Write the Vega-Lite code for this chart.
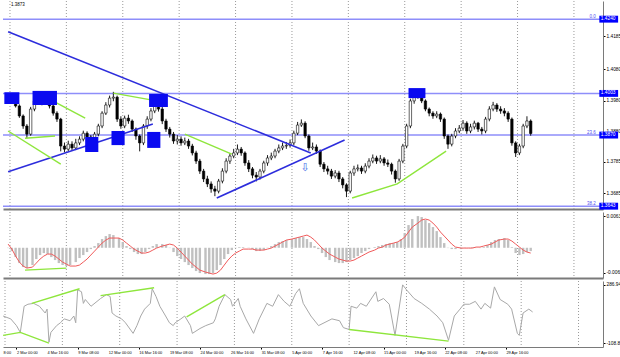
{
"$schema": "https://vega.github.io/schema/vega-lite/v6.json",
"padding": 0,
"spacing": 1,
"background": "white",
"config": {"view": {"stroke": null}, "font": "Liberation Sans", "axis": {"title": null, "labelFont": "Liberation Sans", "labelColor": "#000000", "labelOverlap": false, "labelBound": false, "labelFlush": false}},
"datasets": {
"candles": [
{"n":-1,"o":1.3988,"h":1.3996,"l":1.3970,"c":1.3979},{"n":1,"o":1.3979,"h":1.3994,"l":1.3972,"c":1.3985},{"n":3,"o":1.3985,"h":1.3990,"l":1.3958,"c":1.3963},{"n":5,"o":1.3963,"h":1.3968,"l":1.3925,"c":1.3931},{"n":7,"o":1.3931,"h":1.3936,"l":1.3890,"c":1.3899},{"n":9,"o":1.3899,"h":1.3905,"l":1.3860,"c":1.3873},{"n":11,"o":1.3873,"h":1.3960,"l":1.3868,"c":1.3953},{"n":13,"o":1.3953,"h":1.3990,"l":1.3946,"c":1.3979},{"n":15,"o":1.3979,"h":1.4004,"l":1.3972,"c":1.3991},{"n":17,"o":1.3991,"h":1.3998,"l":1.3965,"c":1.3972},{"n":19,"o":1.3972,"h":1.3995,"l":1.3966,"c":1.3985},{"n":21,"o":1.3985,"h":1.3992,"l":1.3955,"c":1.3963},{"n":23,"o":1.3963,"h":1.3968,"l":1.3932,"c":1.3940},{"n":25,"o":1.3940,"h":1.3946,"l":1.3912,"c":1.3921},{"n":27,"o":1.3921,"h":1.3925,"l":1.3818,"c":1.3835},{"n":29,"o":1.3835,"h":1.3846,"l":1.3815,"c":1.3825},{"n":31,"o":1.3825,"h":1.3852,"l":1.3818,"c":1.3841},{"n":33,"o":1.3841,"h":1.3850,"l":1.3820,"c":1.3829},{"n":35,"o":1.3829,"h":1.3858,"l":1.3822,"c":1.3845},{"n":37,"o":1.3845,"h":1.3866,"l":1.3838,"c":1.3857},{"n":39,"o":1.3857,"h":1.3884,"l":1.3850,"c":1.3876},{"n":41,"o":1.3876,"h":1.3882,"l":1.3856,"c":1.3864},{"n":43,"o":1.3864,"h":1.3870,"l":1.3840,"c":1.3851},{"n":45,"o":1.3851,"h":1.3880,"l":1.3845,"c":1.3873},{"n":47,"o":1.3873,"h":1.3906,"l":1.3866,"c":1.3899},{"n":49,"o":1.3899,"h":1.3946,"l":1.3892,"c":1.3940},{"n":51,"o":1.3940,"h":1.3975,"l":1.3934,"c":1.3966},{"n":53,"o":1.3966,"h":1.3996,"l":1.3958,"c":1.3988},{"n":55,"o":1.3988,"h":1.4008,"l":1.3978,"c":1.3991},{"n":57,"o":1.3991,"h":1.3996,"l":1.3912,"c":1.3921},{"n":59,"o":1.3921,"h":1.3930,"l":1.3890,"c":1.3899},{"n":61,"o":1.3899,"h":1.3932,"l":1.3892,"c":1.3924},{"n":63,"o":1.3924,"h":1.3935,"l":1.3906,"c":1.3915},{"n":65,"o":1.3915,"h":1.3920,"l":1.3880,"c":1.3889},{"n":67,"o":1.3889,"h":1.3894,"l":1.3855,"c":1.3867},{"n":69,"o":1.3867,"h":1.3872,"l":1.3818,"c":1.3845},{"n":71,"o":1.3845,"h":1.3905,"l":1.3838,"c":1.3899},{"n":73,"o":1.3899,"h":1.3930,"l":1.3890,"c":1.3921},{"n":75,"o":1.3921,"h":1.3956,"l":1.3914,"c":1.3947},{"n":77,"o":1.3947,"h":1.3992,"l":1.3940,"c":1.3979},{"n":79,"o":1.3979,"h":1.3985,"l":1.3945,"c":1.3953},{"n":81,"o":1.3953,"h":1.3960,"l":1.3905,"c":1.3915},{"n":83,"o":1.3915,"h":1.3922,"l":1.3880,"c":1.3889},{"n":85,"o":1.3889,"h":1.3896,"l":1.3862,"c":1.3873},{"n":87,"o":1.3873,"h":1.3880,"l":1.3842,"c":1.3851},{"n":89,"o":1.3851,"h":1.3870,"l":1.3840,"c":1.3857},{"n":91,"o":1.3857,"h":1.3866,"l":1.3836,"c":1.3845},{"n":93,"o":1.3845,"h":1.3862,"l":1.3838,"c":1.3851},{"n":95,"o":1.3851,"h":1.3858,"l":1.3826,"c":1.3835},{"n":97,"o":1.3835,"h":1.3842,"l":1.3805,"c":1.3813},{"n":99,"o":1.3813,"h":1.3820,"l":1.3778,"c":1.3787},{"n":101,"o":1.3787,"h":1.3794,"l":1.3746,"c":1.3755},{"n":103,"o":1.3755,"h":1.3762,"l":1.3720,"c":1.3730},{"n":105,"o":1.3730,"h":1.3740,"l":1.3704,"c":1.3714},{"n":107,"o":1.3714,"h":1.3722,"l":1.3686,"c":1.3698},{"n":109,"o":1.3698,"h":1.3708,"l":1.3675,"c":1.3691},{"n":111,"o":1.3691,"h":1.3730,"l":1.3684,"c":1.3723},{"n":113,"o":1.3723,"h":1.3764,"l":1.3716,"c":1.3755},{"n":115,"o":1.3755,"h":1.3796,"l":1.3748,"c":1.3787},{"n":117,"o":1.3787,"h":1.3812,"l":1.3778,"c":1.3803},{"n":119,"o":1.3803,"h":1.3826,"l":1.3796,"c":1.3813},{"n":121,"o":1.3813,"h":1.3840,"l":1.3806,"c":1.3825},{"n":123,"o":1.3825,"h":1.3832,"l":1.3804,"c":1.3813},{"n":125,"o":1.3813,"h":1.3818,"l":1.3772,"c":1.3781},{"n":127,"o":1.3781,"h":1.3790,"l":1.3752,"c":1.3762},{"n":129,"o":1.3762,"h":1.3768,"l":1.3732,"c":1.3742},{"n":131,"o":1.3742,"h":1.3752,"l":1.3722,"c":1.3736},{"n":133,"o":1.3736,"h":1.3762,"l":1.3728,"c":1.3755},{"n":135,"o":1.3755,"h":1.3788,"l":1.3748,"c":1.3781},{"n":137,"o":1.3781,"h":1.3806,"l":1.3772,"c":1.3797},{"n":139,"o":1.3797,"h":1.3814,"l":1.3790,"c":1.3803},{"n":141,"o":1.3803,"h":1.3826,"l":1.3796,"c":1.3819},{"n":143,"o":1.3819,"h":1.3840,"l":1.3812,"c":1.3829},{"n":145,"o":1.3829,"h":1.3846,"l":1.3822,"c":1.3835},{"n":147,"o":1.3835,"h":1.3848,"l":1.3826,"c":1.3837},{"n":149,"o":1.3837,"h":1.3856,"l":1.3830,"c":1.3845},{"n":151,"o":1.3845,"h":1.3884,"l":1.3838,"c":1.3876},{"n":153,"o":1.3876,"h":1.3912,"l":1.3870,"c":1.3902},{"n":155,"o":1.3902,"h":1.3920,"l":1.3896,"c":1.3908},{"n":157,"o":1.3908,"h":1.3914,"l":1.3860,"c":1.3867},{"n":159,"o":1.3867,"h":1.3872,"l":1.3820,"c":1.3829},{"n":161,"o":1.3829,"h":1.3846,"l":1.3822,"c":1.3832},{"n":163,"o":1.3832,"h":1.3840,"l":1.3810,"c":1.3819},{"n":165,"o":1.3819,"h":1.3824,"l":1.3768,"c":1.3777},{"n":167,"o":1.3777,"h":1.3784,"l":1.3752,"c":1.3762},{"n":169,"o":1.3762,"h":1.3772,"l":1.3744,"c":1.3755},{"n":171,"o":1.3755,"h":1.3762,"l":1.3730,"c":1.3739},{"n":173,"o":1.3739,"h":1.3758,"l":1.3732,"c":1.3749},{"n":175,"o":1.3749,"h":1.3756,"l":1.3720,"c":1.3730},{"n":177,"o":1.3730,"h":1.3736,"l":1.3700,"c":1.3711},{"n":179,"o":1.3711,"h":1.3716,"l":1.3672,"c":1.3691},{"n":181,"o":1.3691,"h":1.3756,"l":1.3684,"c":1.3749},{"n":183,"o":1.3749,"h":1.3772,"l":1.3740,"c":1.3762},{"n":185,"o":1.3762,"h":1.3776,"l":1.3754,"c":1.3765},{"n":187,"o":1.3765,"h":1.3772,"l":1.3746,"c":1.3755},{"n":189,"o":1.3755,"h":1.3780,"l":1.3748,"c":1.3771},{"n":191,"o":1.3771,"h":1.3796,"l":1.3764,"c":1.3787},{"n":193,"o":1.3787,"h":1.3808,"l":1.3780,"c":1.3797},{"n":195,"o":1.3797,"h":1.3804,"l":1.3778,"c":1.3787},{"n":197,"o":1.3787,"h":1.3806,"l":1.3780,"c":1.3794},{"n":199,"o":1.3794,"h":1.3800,"l":1.3772,"c":1.3781},{"n":201,"o":1.3781,"h":1.3792,"l":1.3768,"c":1.3777},{"n":203,"o":1.3777,"h":1.3782,"l":1.3744,"c":1.3755},{"n":205,"o":1.3755,"h":1.3760,"l":1.3718,"c":1.3730},{"n":207,"o":1.3730,"h":1.3794,"l":1.3724,"c":1.3787},{"n":209,"o":1.3787,"h":1.3842,"l":1.3780,"c":1.3835},{"n":211,"o":1.3835,"h":1.3906,"l":1.3828,"c":1.3899},{"n":213,"o":1.3899,"h":1.3986,"l":1.3892,"c":1.3979},{"n":215,"o":1.3979,"h":1.4008,"l":1.3970,"c":1.3995},{"n":217,"o":1.3995,"h":1.4016,"l":1.3986,"c":1.4004},{"n":219,"o":1.4004,"h":1.4010,"l":1.3972,"c":1.3979},{"n":221,"o":1.3979,"h":1.3984,"l":1.3946,"c":1.3953},{"n":223,"o":1.3953,"h":1.3958,"l":1.3930,"c":1.3940},{"n":225,"o":1.3940,"h":1.3946,"l":1.3922,"c":1.3931},{"n":227,"o":1.3931,"h":1.3946,"l":1.3924,"c":1.3937},{"n":229,"o":1.3937,"h":1.3942,"l":1.3912,"c":1.3921},{"n":231,"o":1.3921,"h":1.3926,"l":1.3858,"c":1.3867},{"n":233,"o":1.3867,"h":1.3872,"l":1.3826,"c":1.3841},{"n":235,"o":1.3841,"h":1.3874,"l":1.3834,"c":1.3867},{"n":237,"o":1.3867,"h":1.3892,"l":1.3860,"c":1.3883},{"n":239,"o":1.3883,"h":1.3902,"l":1.3876,"c":1.3892},{"n":241,"o":1.3892,"h":1.3918,"l":1.3884,"c":1.3908},{"n":243,"o":1.3908,"h":1.3914,"l":1.3874,"c":1.3883},{"n":245,"o":1.3883,"h":1.3906,"l":1.3876,"c":1.3896},{"n":247,"o":1.3896,"h":1.3916,"l":1.3888,"c":1.3908},{"n":249,"o":1.3908,"h":1.3912,"l":1.3880,"c":1.3889},{"n":251,"o":1.3889,"h":1.3896,"l":1.3872,"c":1.3883},{"n":253,"o":1.3883,"h":1.3928,"l":1.3876,"c":1.3921},{"n":255,"o":1.3921,"h":1.3962,"l":1.3914,"c":1.3953},{"n":257,"o":1.3953,"h":1.3976,"l":1.3946,"c":1.3966},{"n":259,"o":1.3966,"h":1.3972,"l":1.3944,"c":1.3953},{"n":261,"o":1.3953,"h":1.3962,"l":1.3938,"c":1.3947},{"n":263,"o":1.3947,"h":1.3956,"l":1.3930,"c":1.3940},{"n":265,"o":1.3940,"h":1.3946,"l":1.3912,"c":1.3921},{"n":267,"o":1.3921,"h":1.3926,"l":1.3836,"c":1.3845},{"n":269,"o":1.3845,"h":1.3850,"l":1.3800,"c":1.3813},{"n":271,"o":1.3813,"h":1.3842,"l":1.3806,"c":1.3835},{"n":273,"o":1.3835,"h":1.3906,"l":1.3828,"c":1.3899},{"n":275,"o":1.3899,"h":1.3930,"l":1.3892,"c":1.3915},{"n":277,"o":1.3915,"h":1.3920,"l":1.3868,"c":1.3875}
],
"macd": [
{"n":-1,"m":-0.00006,"s":0.00073},{"n":1,"m":-0.00066,"s":-0.00026},{"n":3,"m":-0.00185,"s":-0.00165},{"n":5,"m":-0.00304,"s":-0.00284},{"n":7,"m":-0.00383,"s":-0.00363},{"n":9,"m":-0.00403,"s":-0.00403},{"n":12,"m":-0.00343,"s":-0.00383},{"n":14,"m":-0.00224,"s":-0.00304},{"n":16,"m":-0.00145,"s":-0.00224},{"n":18,"m":-0.00105,"s":-0.00165},{"n":20,"m":-0.00125,"s":-0.00125},{"n":22,"m":-0.00185,"s":-0.00125},{"n":24,"m":-0.00244,"s":-0.00165},{"n":26,"m":-0.00304,"s":-0.00224},{"n":28,"m":-0.00343,"s":-0.00284},{"n":30,"m":-0.00363,"s":-0.00324},{"n":32,"m":-0.00343,"s":-0.00363},{"n":35,"m":-0.00284,"s":-0.00363},{"n":37,"m":-0.00204,"s":-0.00343},{"n":39,"m":-0.00145,"s":-0.00284},{"n":41,"m":-0.00085,"s":-0.00224},{"n":43,"m":-0.00026,"s":-0.00145},{"n":45,"m":0.00034,"s":-0.00066},{"n":47,"m":0.00093,"s":0.00014},{"n":49,"m":0.00173,"s":0.00093},{"n":51,"m":0.00232,"s":0.00153},{"n":53,"m":0.00272,"s":0.00193},{"n":55,"m":0.00252,"s":0.00193},{"n":58,"m":0.00193,"s":0.00193},{"n":60,"m":0.00113,"s":0.00153},{"n":62,"m":0.00034,"s":0.00093},{"n":64,"m":-0.00026,"s":0.00034},{"n":66,"m":-0.00085,"s":-0.00026},{"n":68,"m":-0.00125,"s":-0.00066},{"n":70,"m":-0.00125,"s":-0.00105},{"n":72,"m":-0.00085,"s":-0.00105},{"n":74,"m":-0.00026,"s":-0.00085},{"n":76,"m":0.00034,"s":-0.00046},{"n":78,"m":0.00073,"s":-0.00006},{"n":81,"m":0.00073,"s":0.00034},{"n":83,"m":0.00054,"s":0.00054},{"n":85,"m":-0.00006,"s":0.00073},{"n":87,"m":-0.00085,"s":0.00054},{"n":89,"m":-0.00165,"s":-0.00006},{"n":91,"m":-0.00224,"s":-0.00085},{"n":93,"m":-0.00284,"s":-0.00165},{"n":95,"m":-0.00343,"s":-0.00244},{"n":97,"m":-0.00403,"s":-0.00324},{"n":99,"m":-0.00462,"s":-0.00383},{"n":101,"m":-0.00502,"s":-0.00443},{"n":104,"m":-0.00522,"s":-0.00482},{"n":106,"m":-0.00522,"s":-0.00502},{"n":108,"m":-0.00502,"s":-0.00522},{"n":110,"m":-0.00443,"s":-0.00502},{"n":112,"m":-0.00343,"s":-0.00443},{"n":114,"m":-0.00224,"s":-0.00343},{"n":116,"m":-0.00125,"s":-0.00244},{"n":118,"m":-0.00046,"s":-0.00165},{"n":120,"m":-0.00006,"s":-0.00105},{"n":122,"m":0.00014,"s":-0.00066},{"n":124,"m":0.00014,"s":-0.00026},{"n":127,"m":-0.00006,"s":-0.00026},{"n":129,"m":-0.00026,"s":-0.00026},{"n":131,"m":-0.00066,"s":-0.00046},{"n":133,"m":-0.00066,"s":-0.00046},{"n":135,"m":-0.00046,"s":-0.00046},{"n":137,"m":-0.00006,"s":-0.00026},{"n":139,"m":0.00034,"s":-0.00006},{"n":141,"m":0.00073,"s":0.00034},{"n":143,"m":0.00113,"s":0.00073},{"n":145,"m":0.00133,"s":0.00113},{"n":147,"m":0.00153,"s":0.00153},{"n":150,"m":0.00173,"s":0.00173},{"n":152,"m":0.00193,"s":0.00193},{"n":154,"m":0.00212,"s":0.00212},{"n":156,"m":0.00212,"s":0.00232},{"n":158,"m":0.00173,"s":0.00252},{"n":160,"m":0.00113,"s":0.00212},{"n":162,"m":0.00034,"s":0.00153},{"n":164,"m":-0.00026,"s":0.00073},{"n":166,"m":-0.00105,"s":-0.00006},{"n":168,"m":-0.00185,"s":-0.00066},{"n":170,"m":-0.00244,"s":-0.00125},{"n":173,"m":-0.00284,"s":-0.00185},{"n":175,"m":-0.00304,"s":-0.00224},{"n":177,"m":-0.00304,"s":-0.00244},{"n":179,"m":-0.00284,"s":-0.00264},{"n":181,"m":-0.00244,"s":-0.00264},{"n":183,"m":-0.00204,"s":-0.00244},{"n":185,"m":-0.00165,"s":-0.00204},{"n":187,"m":-0.00105,"s":-0.00165},{"n":189,"m":-0.00066,"s":-0.00125},{"n":191,"m":-0.00026,"s":-0.00085},{"n":194,"m":0.00014,"s":-0.00046},{"n":196,"m":0.00034,"s":-0.00006},{"n":198,"m":0.00054,"s":0.00014},{"n":200,"m":0.00073,"s":0.00054},{"n":202,"m":0.00093,"s":0.00073},{"n":204,"m":0.00093,"s":0.00093},{"n":206,"m":0.00113,"s":0.00113},{"n":208,"m":0.00173,"s":0.00153},{"n":210,"m":0.00292,"s":0.00212},{"n":212,"m":0.00451,"s":0.00312},{"n":214,"m":0.00570,"s":0.00411},{"n":217,"m":0.00629,"s":0.00490},{"n":219,"m":0.00609,"s":0.00550},{"n":221,"m":0.00550,"s":0.00570},{"n":223,"m":0.00490,"s":0.00550},{"n":225,"m":0.00411,"s":0.00490},{"n":227,"m":0.00331,"s":0.00411},{"n":229,"m":0.00212,"s":0.00312},{"n":231,"m":0.00093,"s":0.00232},{"n":233,"m":-0.00006,"s":0.00153},{"n":235,"m":-0.00026,"s":0.00073},{"n":237,"m":-0.00026,"s":0.00014},{"n":240,"m":-0.00026,"s":-0.00006},{"n":242,"m":-0.00006,"s":-0.00006},{"n":244,"m":-0.00006,"s":-0.00006},{"n":246,"m":0.00014,"s":-0.00006},{"n":248,"m":-0.00006,"s":0.00014},{"n":250,"m":-0.00006,"s":0.00014},{"n":252,"m":0.00014,"s":0.00034},{"n":254,"m":0.00054,"s":0.00054},{"n":256,"m":0.00113,"s":0.00073},{"n":258,"m":0.00153,"s":0.00113},{"n":260,"m":0.00173,"s":0.00153},{"n":263,"m":0.00193,"s":0.00173},{"n":265,"m":0.00153,"s":0.00173},{"n":267,"m":0.00014,"s":0.00133},{"n":269,"m":-0.00105,"s":0.00073},{"n":271,"m":-0.00145,"s":0.00014},{"n":273,"m":-0.00125,"s":-0.00046},{"n":275,"m":-0.00085,"s":-0.00085},{"n":277,"m":-0.00066,"s":-0.00105}
],
"cci": [
{"n":-1,"k":-14},{"n":3,"k":-34},{"n":6,"k":-81},{"n":8,"k":-128},{"n":10,"k":54},{"n":12,"k":68},{"n":15,"k":74},{"n":18,"k":54},{"n":21,"k":7},{"n":22,"k":34},{"n":23,"k":-196},{"n":24,"k":-128},{"n":27,"k":-81},{"n":29,"k":-61},{"n":31,"k":-34},{"n":34,"k":-47},{"n":36,"k":-14},{"n":37,"k":-61},{"n":38,"k":169},{"n":40,"k":155},{"n":41,"k":74},{"n":42,"k":101},{"n":45,"k":54},{"n":50,"k":108},{"n":53,"k":135},{"n":55,"k":122},{"n":56,"k":7},{"n":58,"k":-14},{"n":61,"k":-34},{"n":63,"k":-61},{"n":67,"k":-135},{"n":69,"k":-81},{"n":71,"k":-14},{"n":73,"k":34},{"n":76,"k":74},{"n":77,"k":176},{"n":79,"k":122},{"n":81,"k":54},{"n":84,"k":-14},{"n":86,"k":-61},{"n":88,"k":-81},{"n":89,"k":-61},{"n":92,"k":-34},{"n":94,"k":-14},{"n":97,"k":-81},{"n":98,"k":-135},{"n":102,"k":-101},{"n":105,"k":-81},{"n":109,"k":-61},{"n":110,"k":-34},{"n":112,"k":54},{"n":115,"k":135},{"n":118,"k":101},{"n":119,"k":54},{"n":122,"k":108},{"n":123,"k":54},{"n":126,"k":-34},{"n":130,"k":-135},{"n":133,"k":-34},{"n":137,"k":74},{"n":140,"k":54},{"n":143,"k":135},{"n":146,"k":88},{"n":149,"k":54},{"n":152,"k":142},{"n":154,"k":176},{"n":156,"k":74},{"n":160,"k":-14},{"n":164,"k":-81},{"n":171,"k":-34},{"n":175,"k":-47},{"n":177,"k":-95},{"n":180,"k":-108},{"n":181,"k":54},{"n":184,"k":41},{"n":186,"k":74},{"n":189,"k":54},{"n":194,"k":155},{"n":195,"k":88},{"n":198,"k":108},{"n":201,"k":68},{"n":204,"k":-149},{"n":208,"k":203},{"n":210,"k":169},{"n":214,"k":108},{"n":218,"k":74},{"n":222,"k":34},{"n":226,"k":-14},{"n":229,"k":-61},{"n":232,"k":-183},{"n":235,"k":-14},{"n":238,"k":34},{"n":240,"k":68},{"n":243,"k":68},{"n":246,"k":88},{"n":249,"k":34},{"n":251,"k":74},{"n":254,"k":41},{"n":256,"k":189},{"n":259,"k":101},{"n":263,"k":68},{"n":265,"k":34},{"n":268,"k":-135},{"n":269,"k":-149},{"n":271,"k":7},{"n":274,"k":34},{"n":276,"k":14}
],
"grid": [{"n":0},{"n":30},{"n":60},{"n":90},{"n":120},{"n":150},{"n":180},{"n":210},{"n":240},{"n":270},{"n":300}],
"xlabels": [
{"n":-1.05,"t":"8:00"},{"n":6,"t":"2 Mar 00:00"},{"n":22,"t":"4 Mar 16:00"},{"n":38,"t":"9 Mar 08:00"},{"n":54,"t":"12 Mar 00:00"},{"n":70,"t":"16 Mar 16:00"},{"n":86,"t":"19 Mar 08:00"},{"n":102,"t":"24 Mar 00:00"},{"n":118,"t":"26 Mar 16:00"},{"n":134,"t":"31 Mar 08:00"},{"n":150,"t":"5 Apr 00:00"},{"n":166,"t":"7 Apr 16:00"},{"n":182,"t":"12 Apr 08:00"},{"n":198,"t":"15 Apr 00:00"},{"n":214,"t":"19 Apr 16:00"},{"n":230,"t":"22 Apr 08:00"},{"n":246,"t":"27 Apr 00:00"},{"n":262,"t":"29 Apr 16:00"}
],
"levels": [{"p":1.4240},{"p":1.4003},{"p":1.3870},{"p":1.3643}],
"trend": [
{"id":"a","n":-1,"p":1.4200},{"id":"a","n":160,"p":1.3813},
{"id":"b","n":-1,"p":1.3753},{"id":"b","n":76,"p":1.3905},
{"id":"c","n":110,"p":1.3669},{"id":"c","n":178,"p":1.3854}
],
"green": [
{"id":"a","n":-1,"p":1.3883},{"id":"a","n":27,"p":1.3777},
{"id":"b","n":8,"p":1.3860},{"id":"b","n":24,"p":1.3867},
{"id":"c","n":14,"p":1.4007},{"id":"c","n":40,"p":1.3924},
{"id":"d","n":55,"p":1.4004},{"id":"d","n":78,"p":1.3979},
{"id":"e","n":93,"p":1.3873},{"id":"e","n":118,"p":1.3809},
{"id":"f","n":182,"p":1.3669},{"id":"f","n":206,"p":1.3714},{"id":"f","n":232,"p":1.3819}
],
"boxes": [
{"n1":-3,"n2":5,"p1":1.4007,"p2":1.3969},
{"n1":12,"n2":25,"p1":1.4011,"p2":1.3966},
{"n1":40,"n2":47,"p1":1.3864,"p2":1.3816},
{"n1":54,"n2":61,"p1":1.3883,"p2":1.3838},
{"n1":74,"n2":84,"p1":1.4001,"p2":1.3960},
{"n1":73,"n2":80,"p1":1.3880,"p2":1.3829},
{"n1":212,"n2":221,"p1":1.4020,"p2":1.3988}
],
"hl": [
{"p":1.4240,"p1":1.4251,"p2":1.4229,"t":"1.4240","f":"0.0"},
{"p":1.4003,"p1":1.4014,"p2":1.3992,"t":"1.4003","f":""},
{"p":1.3870,"p1":1.3881,"p2":1.3859,"t":"1.3870","f":"23.6"},
{"p":1.3643,"p1":1.3654,"p2":1.3632,"t":"1.3643","f":"38.2"}
],
"greenMacd": [{"n":8,"m":-0.00443},{"n":30,"m":-0.00403}],
"greenCci": [
{"id":"a","n":-1,"k":-149},{"id":"a","n":8,"k":-128},{"id":"a","n":23,"k":-203},
{"id":"b","n":14,"k":74},{"id":"b","n":39,"k":176},
{"id":"c","n":50,"k":128},{"id":"c","n":78,"k":183},
{"id":"d","n":95,"k":-20},{"id":"d","n":115,"k":135},
{"id":"e","n":180,"k":-108},{"id":"e","n":232,"k":-189}
]
},
"vconcat": [
{
"width": 600, "height": 208,
"layer": [
{"data": {"name": "grid"}, "mark": {"type": "rule", "color": "#9a9a9a", "strokeDash": [1, 2], "strokeWidth": 1},
 "encoding": {"x": {"field": "n", "type": "quantitative", "scale": {"domain": [-1.05, 312.8], "nice": false, "zero": false}, "axis": {"labels": false, "ticks": false, "grid": false, "domainColor": "#7a7a7a", "domainWidth": 2}}}},
{"data": {"name": "levels"}, "mark": {"type": "rule", "color": "#8e8efa", "strokeWidth": 1.5},
 "encoding": {"y": {"field": "p", "type": "quantitative", "scale": {"domain": [1.3634, 1.4298], "nice": false, "zero": false}, "axis": {"orient": "right", "values": [1.4285, 1.4185, 1.4135, 1.408, 1.4035, 1.398, 1.3933, 1.388, 1.3835, 1.3785, 1.3735, 1.3685], "format": ".4f", "labelFontSize": 4.8, "tickSize": 2, "tickColor": "#000000", "labelPadding": 1, "domainColor": "#7a7a7a", "grid": false, "zindex": 0}}}},
{"data": {"name": "candles"}, "mark": {"type": "rule", "color": "#000000", "strokeWidth": 0.9},
 "encoding": {"x": {"field": "n", "type": "quantitative", "scale": {"domain": [-1.05, 312.8], "nice": false, "zero": false}}, "y": {"field": "l", "type": "quantitative", "scale": {"domain": [1.3634, 1.4298], "nice": false, "zero": false}}, "y2": {"field": "h"}}},
{"data": {"name": "candles"}, "mark": {"type": "bar", "size": 2.4, "stroke": "#000000", "strokeWidth": 0.6},
 "encoding": {"x": {"field": "n", "type": "quantitative", "scale": {"domain": [-1.05, 312.8], "nice": false, "zero": false}}, "y": {"field": "o", "type": "quantitative", "scale": {"domain": [1.3634, 1.4298], "nice": false, "zero": false}}, "y2": {"field": "c"}, "color": {"condition": {"test": "datum.c > datum.o", "value": "#ffffff"}, "value": "#000000"}}},
{"data": {"name": "trend"}, "mark": {"type": "line", "color": "#2d2ddc", "strokeWidth": 1.6, "clip": true},
 "encoding": {"x": {"field": "n", "type": "quantitative", "scale": {"domain": [-1.05, 312.8], "nice": false, "zero": false}}, "y": {"field": "p", "type": "quantitative", "scale": {"domain": [1.3634, 1.4298], "nice": false, "zero": false}}, "detail": {"field": "id"}}},
{"data": {"name": "green"}, "mark": {"type": "line", "color": "#8ee63c", "strokeWidth": 1.4, "clip": true},
 "encoding": {"x": {"field": "n", "type": "quantitative", "scale": {"domain": [-1.05, 312.8], "nice": false, "zero": false}}, "y": {"field": "p", "type": "quantitative", "scale": {"domain": [1.3634, 1.4298], "nice": false, "zero": false}}, "detail": {"field": "id"}}},
{"data": {"name": "boxes"}, "mark": {"type": "rect", "color": "#0a0af0", "clip": true},
 "encoding": {"x": {"field": "n1", "type": "quantitative", "scale": {"domain": [-1.05, 312.8], "nice": false, "zero": false}}, "x2": {"field": "n2"}, "y": {"field": "p1", "type": "quantitative", "scale": {"domain": [1.3634, 1.4298], "nice": false, "zero": false}}, "y2": {"field": "p2"}}},
{"data": {"values": [{"n": 157, "p": 1.3765, "t": "⇩"}]}, "mark": {"type": "text", "color": "#4a6ee8", "fontSize": 11, "font": "DejaVu Sans"},
 "encoding": {"x": {"field": "n", "type": "quantitative", "scale": {"domain": [-1.05, 312.8], "nice": false, "zero": false}}, "y": {"field": "p", "type": "quantitative", "scale": {"domain": [1.3634, 1.4298], "nice": false, "zero": false}}, "text": {"field": "t"}}},
{"data": {"name": "hl"}, "mark": {"type": "text", "color": "#5050f0", "fontSize": 4.5, "align": "right", "baseline": "bottom", "dy": -0.5},
 "encoding": {"x": {"datum": 311.6, "type": "quantitative", "scale": {"domain": [-1.05, 312.8], "nice": false, "zero": false}}, "y": {"field": "p", "type": "quantitative", "scale": {"domain": [1.3634, 1.4298], "nice": false, "zero": false}}, "text": {"field": "f"}}},
{"data": {"name": "hl"}, "mark": {"type": "rect", "color": "#0000ff", "clip": false},
 "encoding": {"x": {"datum": 313.5, "type": "quantitative", "scale": {"domain": [-1.05, 312.8], "nice": false, "zero": false}}, "x2": {"datum": 323.5}, "y": {"field": "p1", "type": "quantitative", "scale": {"domain": [1.3634, 1.4298], "nice": false, "zero": false}}, "y2": {"field": "p2"}}},
{"data": {"name": "hl"}, "mark": {"type": "text", "color": "#ffffff", "fontSize": 4.8, "align": "left", "baseline": "middle", "clip": false},
 "encoding": {"x": {"datum": 314.3, "type": "quantitative", "scale": {"domain": [-1.05, 312.8], "nice": false, "zero": false}}, "y": {"field": "p", "type": "quantitative", "scale": {"domain": [1.3634, 1.4298], "nice": false, "zero": false}}, "text": {"field": "t"}}},
{"data": {"values": [{"n": 0.5, "p": 1.4284, "t": "1.3873"}]}, "mark": {"type": "text", "color": "#000000", "fontSize": 4.5, "align": "left", "baseline": "middle"},
 "encoding": {"x": {"field": "n", "type": "quantitative", "scale": {"domain": [-1.05, 312.8], "nice": false, "zero": false}}, "y": {"field": "p", "type": "quantitative", "scale": {"domain": [1.3634, 1.4298], "nice": false, "zero": false}}, "text": {"field": "t"}}}
]
},
{
"width": 600, "height": 66,
"layer": [
{"data": {"name": "grid"}, "mark": {"type": "rule", "color": "#9a9a9a", "strokeDash": [1, 2], "strokeWidth": 1},
 "encoding": {"x": {"field": "n", "type": "quantitative", "scale": {"domain": [-1.05, 312.8], "nice": false, "zero": false}, "axis": {"labels": false, "ticks": false, "grid": false, "domainColor": "#7a7a7a", "domainWidth": 2}}}},
{"data": {"name": "macd"}, "mark": {"type": "bar", "size": 2.4, "color": "#c0c0c0"},
 "encoding": {"x": {"field": "n", "type": "quantitative", "scale": {"domain": [-1.05, 312.8], "nice": false, "zero": false}}, "y": {"field": "m", "type": "quantitative", "scale": {"domain": [-0.006, 0.0071], "nice": false, "zero": false}, "axis": {"orient": "right", "values": [0.0063, 0, -0.005], "labelExpr": "datum.value > 0.006 ? '0.0063' : (datum.value < -0.004 ? '-0.0069' : '0.00')", "labelFontSize": 4.8, "tickSize": 2, "tickColor": "#000000", "labelPadding": 1, "domainColor": "#7a7a7a", "grid": false}}, "y2": {"datum": 0}}},
{"data": {"name": "macd"}, "mark": {"type": "line", "color": "#f05a5a", "strokeWidth": 1},
 "encoding": {"x": {"field": "n", "type": "quantitative", "scale": {"domain": [-1.05, 312.8], "nice": false, "zero": false}}, "y": {"field": "s", "type": "quantitative", "scale": {"domain": [-0.006, 0.0071], "nice": false, "zero": false}}}},
{"data": {"name": "greenMacd"}, "mark": {"type": "line", "color": "#8ee63c", "strokeWidth": 1.4},
 "encoding": {"x": {"field": "n", "type": "quantitative", "scale": {"domain": [-1.05, 312.8], "nice": false, "zero": false}}, "y": {"field": "m", "type": "quantitative", "scale": {"domain": [-0.006, 0.0071], "nice": false, "zero": false}}}}
]
},
{
"width": 600, "height": 66,
"layer": [
{"data": {"name": "grid"}, "mark": {"type": "rule", "color": "#9a9a9a", "strokeDash": [1, 2], "strokeWidth": 1},
 "encoding": {"x": {"field": "n", "type": "quantitative", "scale": {"domain": [-1.05, 312.8], "nice": false, "zero": false}, "axis": {"values": [6, 22, 38, 54, 70, 86, 102, 118, 134, 150, 166, 182, 198, 214, 230, 246, 262], "labels": false, "tickSize": 2, "tickColor": "#000000", "grid": false, "domainColor": "#7a7a7a"}}}},
{"data": {"name": "cci"}, "mark": {"type": "line", "color": "#a8a8a8", "strokeWidth": 1},
 "encoding": {"x": {"field": "n", "type": "quantitative", "scale": {"domain": [-1.05, 312.8], "nice": false, "zero": false}}, "y": {"field": "k", "type": "quantitative", "scale": {"domain": [-230, 230], "nice": false, "zero": false}, "axis": {"orient": "right", "values": [203, 0, -203], "labelExpr": "datum.value > 100 ? '286.9402' : (datum.value < -100 ? '-108.885' : '0.00')", "labelFontSize": 4.8, "tickSize": 2, "tickColor": "#000000", "labelPadding": 1, "domainColor": "#7a7a7a", "grid": false}}}},
{"data": {"name": "greenCci"}, "mark": {"type": "line", "color": "#8ee63c", "strokeWidth": 1.4},
 "encoding": {"x": {"field": "n", "type": "quantitative", "scale": {"domain": [-1.05, 312.8], "nice": false, "zero": false}}, "y": {"field": "k", "type": "quantitative", "scale": {"domain": [-230, 230], "nice": false, "zero": false}}, "detail": {"field": "id"}}},
{"data": {"name": "xlabels"}, "mark": {"type": "text", "color": "#000000", "fontSize": 3.9, "align": "left", "baseline": "middle", "dy": 5.5, "dx": 0.5, "clip": false},
 "encoding": {"x": {"field": "n", "type": "quantitative", "scale": {"domain": [-1.05, 312.8], "nice": false, "zero": false}}, "y": {"datum": -230, "type": "quantitative", "scale": {"domain": [-230, 230], "nice": false, "zero": false}}, "text": {"field": "t"}}}
]
}
]
}
